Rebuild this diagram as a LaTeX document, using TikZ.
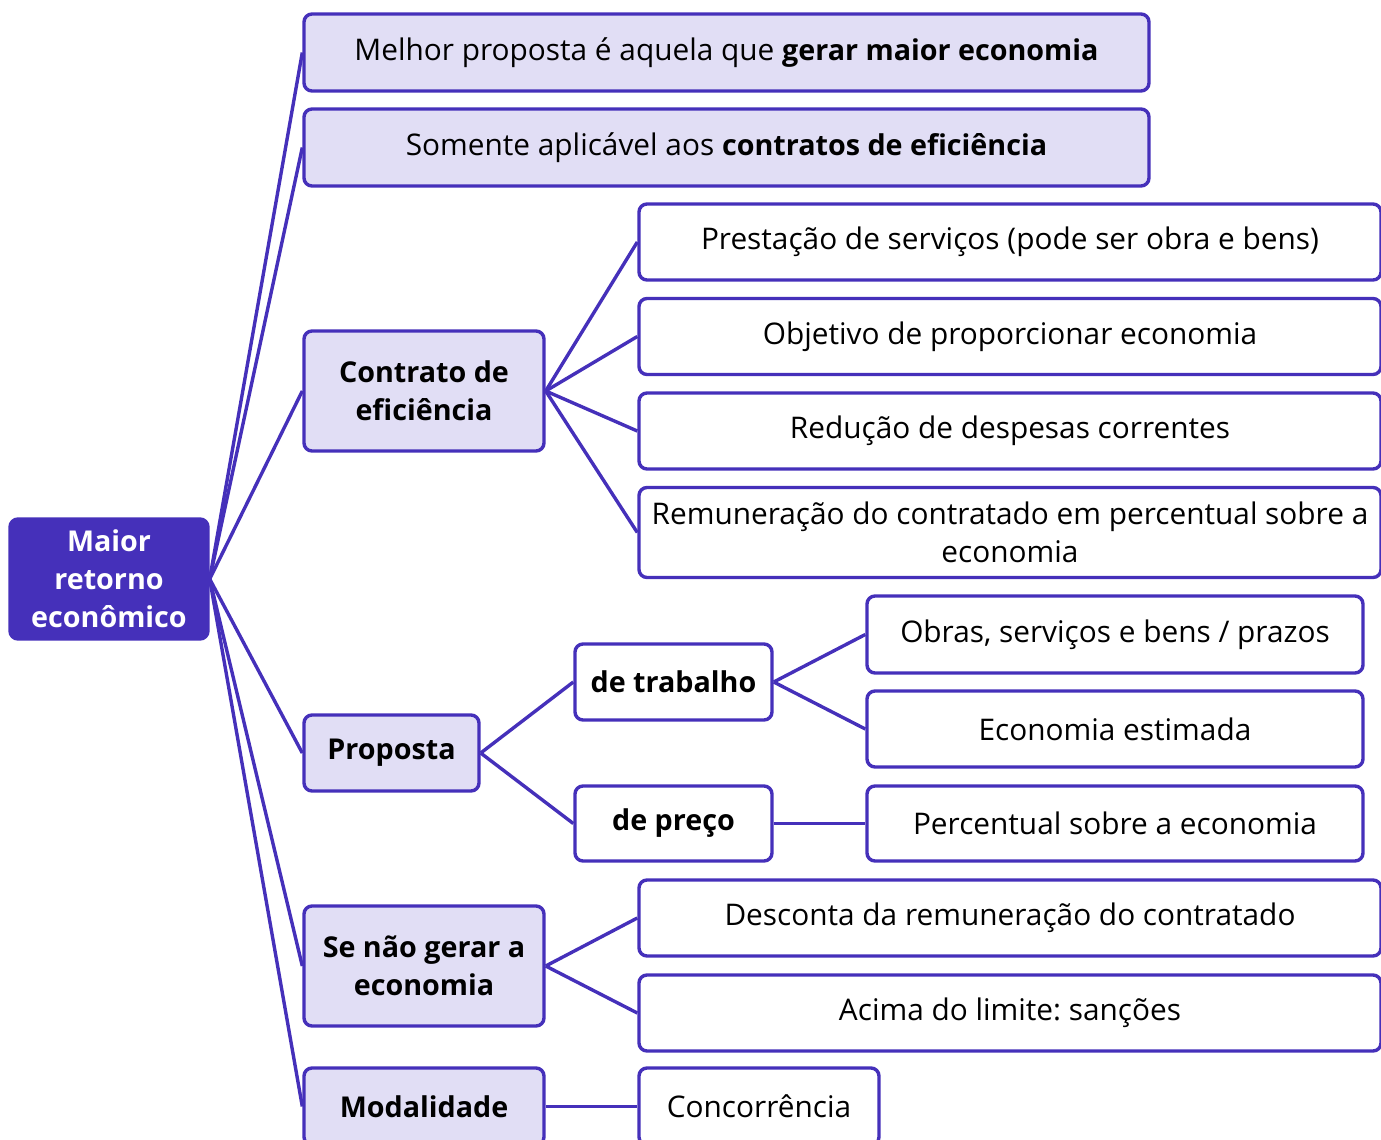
\documentclass[tikz,border=0pt]{standalone}
\usepackage{fontspec}
\setmainfont{Open Sans}
\definecolor{pdark}{HTML}{4530BA}
\definecolor{plight}{HTML}{E1DEF5}
\newcommand{\myb}[1]{{\fontsize{28.7}{38}\selectfont\bfseries #1}}
\frenchspacing
\begin{document}
\begin{tikzpicture}[x=1pt,y=-1pt,
  box/.style={draw=pdark, line width=3.4pt, rounded corners=8pt, inner sep=0pt, align=center,
    font=\fontsize{29.8}{38}\selectfont, text=black},
  bfont/.style={font=\fontsize{28.7}{38}\selectfont\bfseries},
  rootbox/.style={box, fill=pdark, text=white, bfont},
  lvlone/.style={box, fill=plight},
  lvltwo/.style={box, fill=white},
  conn/.style={draw=pdark, line width=3.4pt}]
\useasboundingbox (0,0) rectangle (1381,1140);
% root
\node[rootbox, minimum width=198pt, minimum height=120pt] (root) at (109,579) {Maior\\retorno\\econômico};
% level one
\node[lvlone, minimum width=845pt, minimum height=77pt] (a) at (726.5,52.5) {Melhor proposta é aquela que \myb{gerar maior economia}};
\node[lvlone, minimum width=845pt, minimum height=77pt] (b) at (726.5,147.5) {Somente aplicável aos \myb{contratos de eficiência}};
\node[lvlone, bfont, minimum width=240pt, minimum height=120pt] (c) at (424,391) {Contrato de\\eficiência};
\node[lvlone, bfont, minimum width=175pt, minimum height=76pt] (d) at (391.5,753) {Proposta};
\node[lvlone, bfont, minimum width=240pt, minimum height=120pt] (e) at (424,966) {Se não gerar a\\economia};
\node[lvlone, bfont, minimum width=240pt, minimum height=77pt] (f) at (424,1106.5) {Modalidade};
% children of c
\node[lvltwo, minimum width=742pt, minimum height=76pt] (c1) at (1010,242) {Prestação de serviços (pode ser obra e bens)};
\node[lvltwo, minimum width=742pt, minimum height=76pt] (c2) at (1010,336.5) {Objetivo de proporcionar economia};
\node[lvltwo, minimum width=742pt, minimum height=76pt] (c3) at (1010,431) {Redução de despesas correntes};
\node[lvltwo, minimum width=742pt, minimum height=90pt] (c4) at (1010,532.5) {Remuneração do contratado em percentual sobre a\\economia};
% children of d
\node[lvltwo, bfont, minimum width=197pt, minimum height=76pt] (d1) at (673.5,682) {de trabalho};
\node[lvltwo, bfont, minimum width=197pt, minimum height=75pt] (d2) at (673.5,823.5) {de preço};
\node[lvltwo, minimum width=496pt, minimum height=77pt] (d11) at (1115,634.5) {Obras, serviços e bens / prazos};
\node[lvltwo, minimum width=496pt, minimum height=76pt] (d12) at (1115,729) {Economia estimada};
\node[lvltwo, minimum width=496pt, minimum height=75pt] (d21) at (1115,823.5) {Percentual sobre a economia};
% children of e
\node[lvltwo, minimum width=742pt, minimum height=76pt] (e1) at (1010,918) {Desconta da remuneração do contratado};
\node[lvltwo, minimum width=742pt, minimum height=76pt] (e2) at (1010,1013) {Acima do limite: sanções};
% child of f
\node[lvltwo, minimum width=240pt, minimum height=77pt] (f1) at (759,1106.5) {Concorrência};
% connectors
\foreach \t in {a,b,c,d,e,f}{\draw[conn] (root.east) -- (\t.west);}
\foreach \t in {c1,c2,c3,c4}{\draw[conn] (c.east) -- (\t.west);}
\foreach \t in {d1,d2}{\draw[conn] (d.east) -- (\t.west);}
\foreach \t in {d11,d12}{\draw[conn] (d1.east) -- (\t.west);}
\draw[conn] (d2.east) -- (d21.west);
\foreach \t in {e1,e2}{\draw[conn] (e.east) -- (\t.west);}
\draw[conn] (f.east) -- (f1.west);
\end{tikzpicture}
\end{document}
